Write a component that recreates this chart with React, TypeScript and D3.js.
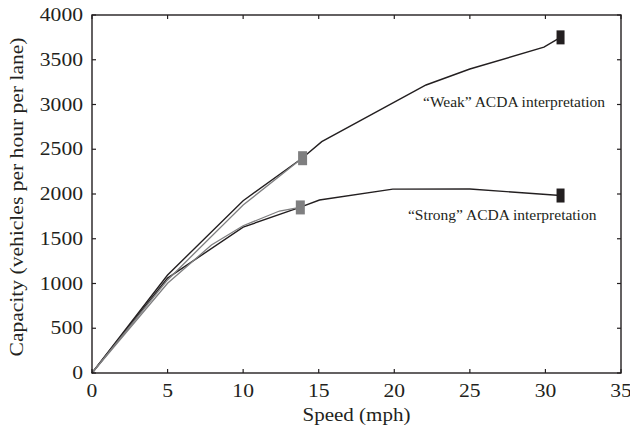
import React from "react";
import * as d3 from "d3";

const xTicks = [0, 5, 10, 15, 20, 25, 30, 35];
const yTicks = [0, 500, 1000, 1500, 2000, 2500, 3000, 3500, 4000];

const weakBlackSpeed = [0, 5, 10, 13.9, 15.2, 22.1, 25, 29.9, 31];
const weakBlackCap = [0, 1095, 1925, 2400, 2585, 3218, 3397, 3640, 3750];

const strongBlackSpeed = [0, 5, 10, 13.75, 15.05, 19.9, 25, 31];
const strongBlackCap = [0, 1060, 1630, 1850, 1933, 2054, 2056, 1983];

const weakGraySpeed = [0, 5, 10, 13.9];
const weakGrayCap = [0, 1040, 1877, 2400];

const strongGraySpeed = [0, 5, 7.9, 10, 12.4, 13.75];
const strongGrayCap = [0, 1002, 1430, 1645, 1810, 1850];

const blackBoxSpeed = [31, 31];
const blackBoxCap = [3750, 1983];
const grayBoxSpeed = [13.9, 13.75];
const grayBoxCap = [2400, 1850];

const labels = ["\u201cWeak\u201d ACDA interpretation", "\u201cStrong\u201d ACDA interpretation"];
const labelSpeed = [21.9, 20.9];
const labelCap = [2970, 1710];

const W = 630, H = 438;
const m = { left: 92, right: 621, top: 15, bottom: 373 };
const AX = "#231f20";
const GRAY = "#7f7f80";
const FONT = "'Liberation Serif', 'Times New Roman', serif";
const SX = 1.2;

export default function App() {
  const x = d3.scaleLinear().domain([0, 35]).range([m.left, m.right]);
  const y = d3.scaleLinear().domain([0, 4000]).range([m.bottom, m.top]);
  const line = d3.line<[number, number]>().x(d => x(d[0])).y(d => y(d[1]));
  const zip = (a: number[], b: number[]) => a.map((v, i) => [v, b[i]] as [number, number]);
  const tl = 4;
  const bw = 8, bh = 14;
  return (
    <svg width={W} height={H} style={{ position: "absolute", left: 0, top: 0, background: "#fff" }} fontFamily={FONT}>
      <rect x={0} y={0} width={W} height={H} fill="#fff" />
      <path d={line(zip(weakBlackSpeed, weakBlackCap)) || ""} fill="none" stroke={AX} strokeWidth={1.4} />
      <path d={line(zip(strongBlackSpeed, strongBlackCap)) || ""} fill="none" stroke={AX} strokeWidth={1.4} />
      <path d={line(zip(weakGraySpeed, weakGrayCap)) || ""} fill="none" stroke={GRAY} strokeWidth={1.3} />
      <path d={line(zip(strongGraySpeed, strongGrayCap)) || ""} fill="none" stroke={GRAY} strokeWidth={1.3} />
      {blackBoxSpeed.map((s, i) => (
        <rect key={"b" + i} x={x(s) - bw / 2} y={y(blackBoxCap[i]) - bh / 2} width={bw} height={bh} fill={AX} />
      ))}
      {grayBoxSpeed.map((s, i) => (
        <rect key={"g" + i} x={x(s) - bw / 2} y={y(grayBoxCap[i]) - bh / 2} width={bw + 1} height={bh} fill={GRAY} />
      ))}
      {labels.map((t, i) => (
        <text key={t} x={x(labelSpeed[i])} y={y(labelCap[i])} fontSize={15.5} fill={AX}>{t}</text>
      ))}
      <rect x={m.left} y={m.top} width={m.right - m.left} height={m.bottom - m.top} fill="none" stroke={AX} strokeWidth={1.4} />
      {xTicks.map(t => (
        <g key={"x" + t}>
          <line x1={x(t)} x2={x(t)} y1={m.bottom} y2={m.bottom - tl} stroke={AX} strokeWidth={1.2} />
          <line x1={x(t)} x2={x(t)} y1={m.top} y2={m.top + tl} stroke={AX} strokeWidth={1.2} />
          <text transform={`translate(${x(t)},397) scale(${SX},1)`} textAnchor="middle" fontSize={18} fill={AX}>{t}</text>
        </g>
      ))}
      {yTicks.map(t => (
        <g key={"y" + t}>
          <line x1={m.left} x2={m.left + tl} y1={y(t)} y2={y(t)} stroke={AX} strokeWidth={1.2} />
          <line x1={m.right} x2={m.right - tl} y1={y(t)} y2={y(t)} stroke={AX} strokeWidth={1.2} />
          <text transform={`translate(83,${y(t)}) scale(${SX},1)`} dy="0.34em" textAnchor="end" fontSize={18} fill={AX}>{t}</text>
        </g>
      ))}
      <text x={(m.left + m.right) / 2} y={421} textAnchor="middle" fontSize={18} fill={AX} textLength={108} lengthAdjust="spacingAndGlyphs">Speed (mph)</text>
      <text transform={`translate(23,${(m.top + m.bottom) / 2 + 3}) rotate(-90)`} textAnchor="middle" fontSize={18} fill={AX} textLength={319} lengthAdjust="spacingAndGlyphs">Capacity (vehicles per hour per lane)</text>
    </svg>
  );
}
